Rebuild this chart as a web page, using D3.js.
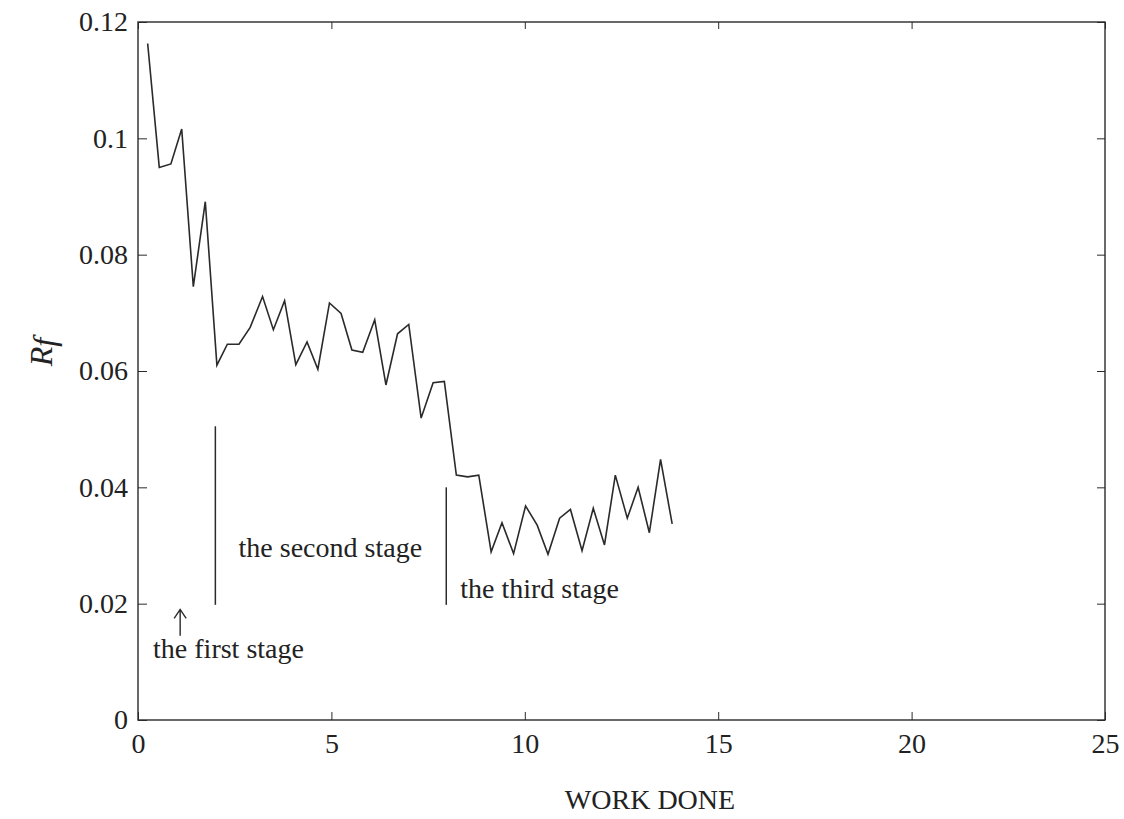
<!DOCTYPE html>
<html><head><meta charset="utf-8">
<script src="https://cdn.jsdelivr.net/npm/d3@7"></script>
<style>
body{margin:0;background:#fff;}
svg text{font-family:"Liberation Serif","Times New Roman",serif;fill:#222;}
</style></head>
<body><svg id="c" width="1124" height="819"></svg>
<script>
// Data
const workDone = [0.25,0.55,0.85,1.13,1.43,1.74,2.04,2.31,2.61,2.90,3.22,3.50,3.79,4.08,4.37,4.65,4.95,5.25,5.53,5.81,6.12,6.41,6.71,7.00,7.32,7.63,7.92,8.23,8.52,8.81,9.13,9.41,9.71,10.02,10.32,10.60,10.90,11.18,11.48,11.77,12.06,12.34,12.65,12.93,13.22,13.51,13.81];
const rf = [0.1163,0.0950,0.0956,0.1016,0.0745,0.0891,0.0610,0.0646,0.0646,0.0675,0.0728,0.0671,0.0721,0.0611,0.0650,0.0603,0.0717,0.0699,0.0636,0.0632,0.0688,0.0576,0.0664,0.0680,0.0519,0.0580,0.0582,0.0421,0.0418,0.0421,0.0289,0.0339,0.0286,0.0368,0.0335,0.0285,0.0347,0.0362,0.0291,0.0364,0.0301,0.0421,0.0347,0.0400,0.0322,0.0448,0.0337];
const xTicks = [0,5,10,15,20,25];
const yTicks = [0,0.02,0.04,0.06,0.08,0.1,0.12];
const yTickLabels = ["0","0.02","0.04","0.06","0.08","0.1","0.12"];
const stageLines = [{x:2, y0:0.0198, y1:0.0505},{x:7.97, y0:0.0198, y1:0.0400}];
const stageLabels = [
  {text:"the second stage", x:2.6, y:0.0280},
  {text:"the third stage", x:8.33, y:0.0210},
  {text:"the first stage", x:0.39, y:0.0106}
];
const arrow = {x:1.09, y0:0.0145, y1:0.0190};

const svg = d3.select("#c");
const L=138, R=1105, T=22, B=720;
const x = d3.scaleLinear().domain([0,25]).range([L,R]);
const y = d3.scaleLinear().domain([0,0.12]).range([B,T]);
const stroke="#2a2a2a";

// frame
svg.append("rect").attr("x",L).attr("y",T).attr("width",R-L).attr("height",B-T)
  .attr("fill","none").attr("stroke",stroke).attr("stroke-width",1.4);

const fs = 28;
// bottom axis
const gx = svg.append("g").attr("transform",`translate(0,${B})`)
  .call(d3.axisBottom(x).tickValues(xTicks).tickSize(-8).tickPadding(13).tickFormat(d3.format("d")));
gx.select(".domain").remove();
gx.selectAll("line").attr("stroke",stroke);
gx.selectAll("text").attr("font-size",fs).attr("fill","#222");
// top ticks
const gxt = svg.append("g").attr("transform",`translate(0,${T})`)
  .call(d3.axisTop(x).tickValues(xTicks).tickSize(-7).tickFormat(""));
gxt.select(".domain").remove(); gxt.selectAll("line").attr("stroke",stroke);
// left axis
const gy = svg.append("g").attr("transform",`translate(${L},0)`)
  .call(d3.axisLeft(y).tickValues(yTicks).tickSize(-9).tickPadding(10).tickFormat((d,i)=>yTickLabels[i]));
gy.select(".domain").remove();
gy.selectAll("line").attr("stroke",stroke);
gy.selectAll("text").attr("font-size",fs).attr("fill","#222");
// right ticks
const gyr = svg.append("g").attr("transform",`translate(${R},0)`)
  .call(d3.axisRight(y).tickValues(yTicks).tickSize(-8).tickFormat(""));
gyr.select(".domain").remove(); gyr.selectAll("line").attr("stroke",stroke);

// data line
const pts = workDone.map((d,i)=>[d,rf[i]]);
svg.append("path").datum(pts)
  .attr("d",d3.line().x(d=>x(d[0])).y(d=>y(d[1])))
  .attr("fill","none").attr("stroke",stroke).attr("stroke-width",1.6).attr("stroke-linejoin","miter");

// stage lines
svg.selectAll(".stage").data(stageLines).enter().append("line")
  .attr("x1",d=>x(d.x)).attr("x2",d=>x(d.x)).attr("y1",d=>y(d.y0)).attr("y2",d=>y(d.y1))
  .attr("stroke",stroke).attr("stroke-width",1.5);
svg.selectAll(".slab").data(stageLabels).enter().append("text")
  .attr("x",d=>x(d.x)).attr("y",d=>y(d.y)).attr("font-size",fs).text(d=>d.text);
// arrow for the first stage
const ax = x(arrow.x), ay0 = y(arrow.y0), ay1 = y(arrow.y1);
svg.append("path")
  .attr("d",`M${ax},${ay0}L${ax},${ay1}M${ax-6},${ay1+9}L${ax},${ay1}L${ax+6},${ay1+9}`)
  .attr("fill","none").attr("stroke",stroke).attr("stroke-width",1.4);

// axis titles
svg.append("text").attr("x",650).attr("y",809).attr("text-anchor","middle")
  .attr("font-size",fs).text("WORK DONE");
const yl = svg.append("text").attr("transform","translate(52,352) rotate(-90)")
  .attr("text-anchor","middle").attr("font-size",32).attr("font-style","italic");
yl.append("tspan").text("R");
yl.append("tspan").attr("dy",3).text("f");
</script></body></html>
